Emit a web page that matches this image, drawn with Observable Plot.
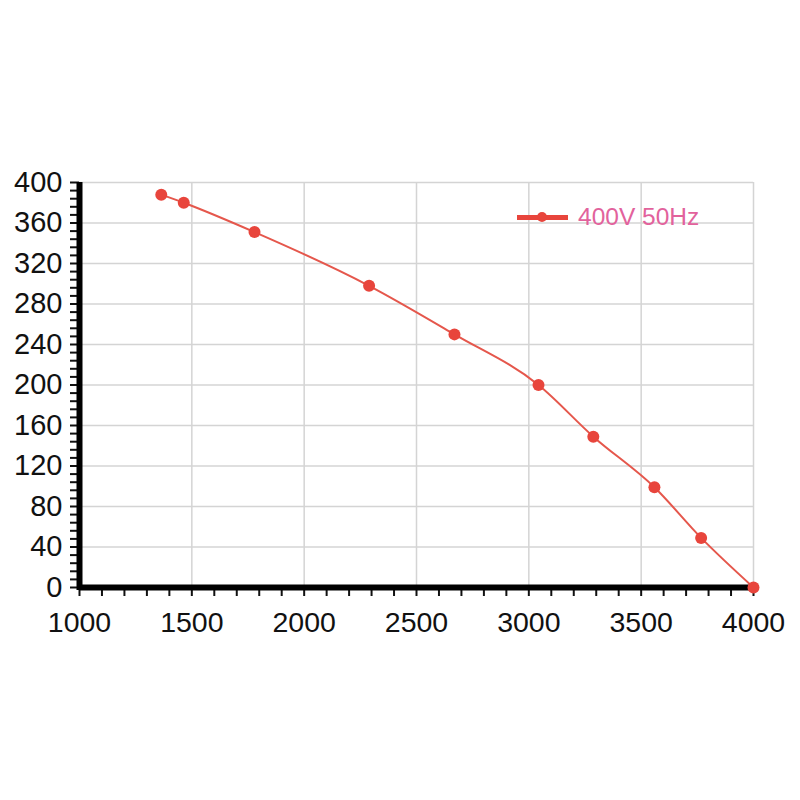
<!DOCTYPE html>
<html><head><meta charset="utf-8">
<script src="https://cdn.jsdelivr.net/npm/d3@7"></script>
<script src="https://cdn.jsdelivr.net/npm/@observablehq/plot@0.6"></script>
<style>
html,body{margin:0;padding:0;background:#fff;}
#wrap{position:relative;width:800px;height:800px;}
#legend{position:absolute;left:517px;top:203px;display:flex;align-items:center;font-family:"Liberation Sans",Arial,sans-serif;font-size:24.5px;color:#e2629c;}
#legend .sw{position:relative;width:51px;height:5px;background:#e8453c;margin-right:10px;}
#legend .sw i{position:absolute;left:20px;top:-3px;width:10px;height:10px;border-radius:50%;background:#e8453c;}
</style></head>
<body><div id="wrap"><div id="legend"><span class="sw"><i></i></span><span>400V 50Hz</span></div></div>
<script>
const seriesName = "400V 50Hz";
const flow = [1364, 1464, 1779, 2289, 2669, 3043, 3287, 3559, 3767, 4000];
const pressure = [388, 380, 351, 298, 250, 200, 149, 99, 49, 0];
const xTickLabels = [1000, 1500, 2000, 2500, 3000, 3500, 4000];
const yTickLabels = [0, 40, 80, 120, 160, 200, 240, 280, 320, 360, 400];

const data = flow.map((f, i) => ({flow: f, pressure: pressure[i]}));
const font = "Liberation Sans, Arial, sans-serif";

const chart = Plot.plot({
  width: 800, height: 800,
  marginLeft: 79, marginRight: 47, marginTop: 182, marginBottom: 213,
  style: {fontFamily: font, background: "#fff", overflow: "visible"},
  x: {domain: [1000, 4000]},
  y: {domain: [0, 400]},
  marks: [
    Plot.gridX(xTickLabels, {stroke: "#d4d4d4", strokeOpacity: 1, strokeWidth: 1.5}),
    Plot.gridY(yTickLabels, {stroke: "#d4d4d4", strokeOpacity: 1, strokeWidth: 1.5}),
    Plot.axisY(d3.range(0, 401, 8), {
      tickSize: 9, tickPadding: 8, strokeWidth: 2, stroke: "#111",
      tickFormat: d => yTickLabels.includes(d) ? String(d) : "",
      fontSize: 29, fill: "#111", label: null
    }),
    Plot.axisX(d3.range(1000, 4001, 100), {
      tickSize: 9, tickPadding: 15, stroke: "#111", strokeWidth: 2,
      tickFormat: d => xTickLabels.includes(d) ? String(d) : "",
      fontSize: 28.5, fill: "#111", label: null
    }),
    Plot.ruleX([1000], {y1: -3, y2: 400, stroke: "#000", strokeWidth: 6}),
    Plot.ruleY([0], {x1: 1000, x2: 4000, stroke: "#000", strokeWidth: 6}),
    Plot.line(data, {x: "flow", y: "pressure", stroke: "#e5574c", strokeWidth: 2, curve: "monotone-x"}),
    Plot.dot(data, {x: "flow", y: "pressure", r: 6, fill: "#e8453c", stroke: "none"})
  ]
});
document.getElementById("wrap").prepend(chart);
chart.style.position = "absolute"; chart.style.left = "0"; chart.style.top = "0";
document.getElementById("legend").querySelector("span:last-child").textContent = seriesName;
</script>
</body></html>
